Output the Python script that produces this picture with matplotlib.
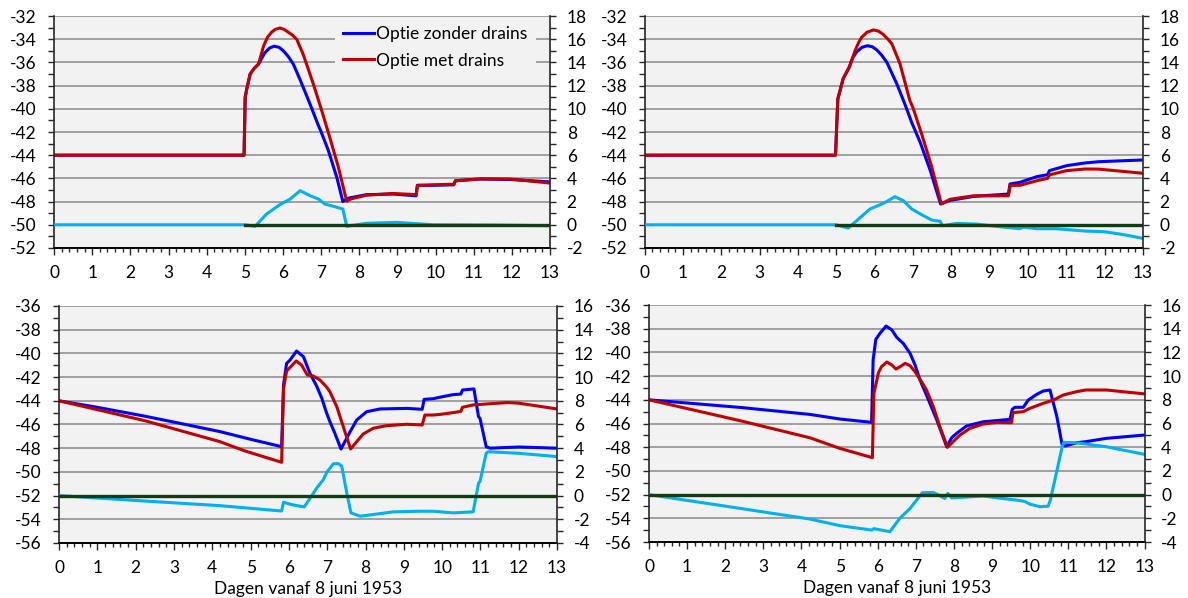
import matplotlib
matplotlib.use('Agg')
import matplotlib.pyplot as plt
from matplotlib.ticker import MultipleLocator

plt.rcParams['font.family'] = ['Lato', 'DejaVu Sans']
plt.rcParams['font.size'] = 12.5
plt.rcParams['axes.unicode_minus'] = False

# ---------------- data ----------------
label_blue = 'Optie zonder drains'
label_red = 'Optie met drains'
xlabel_text = 'Dagen vanaf 8 juni 1953'

# top-left
tl_blue_t = [0, 4.98, 5.01, 5.05, 5.14, 5.25, 5.36, 5.45, 5.53, 5.65, 5.77, 5.9, 6.01, 6.14, 6.27, 6.45, 6.71, 6.93, 6.99, 7.19, 7.41, 7.57, 7.72, 8.19, 8.89, 9.49, 9.52, 9.94, 10.48, 10.52, 11.17, 12.0, 13.0]
tl_blue_v = [-44, -44, -39.0, -38.3, -37.0, -36.5, -36.14, -35.6, -35.15, -34.75, -34.6, -34.7, -35.0, -35.5, -36.14, -37.5, -39.6, -41.45, -41.9, -43.6, -45.9, -48.0, -47.7, -47.4, -47.35, -47.5, -46.6, -46.6, -46.55, -46.2, -46.05, -46.1, -46.3]
tl_red_t = [0, 4.98, 5.01, 5.05, 5.14, 5.25, 5.36, 5.49, 5.6, 5.70, 5.8, 5.92, 6.03, 6.14, 6.25, 6.36, 6.53, 6.80, 7.02, 7.23, 7.45, 7.67, 7.8, 8.19, 8.89, 9.49, 9.53, 9.94, 10.48, 10.52, 11.17, 11.93, 13.0]
tl_red_v = [-44, -44, -39.0, -38.3, -37.0, -36.5, -36.14, -34.6, -33.8, -33.4, -33.15, -33.03, -33.15, -33.4, -33.65, -34.0, -35.3, -37.9, -40.2, -42.5, -45.0, -47.97, -47.75, -47.45, -47.3, -47.4, -46.6, -46.55, -46.5, -46.2, -46.05, -46.05, -46.4]
tl_diff_t = [0, 5.0, 5.27, 5.57, 5.92, 6.19, 6.45, 6.71, 6.93, 7.10, 7.36, 7.57, 7.67, 8.19, 8.98, 9.94, 11.5, 13]
tl_diff_v = [0, 0, -0.13, 0.93, 1.74, 2.22, 2.94, 2.51, 2.22, 1.79, 1.56, 1.36, -0.13, 0.13, 0.21, 0.0, -0.02, -0.08]
tl_zero_t = [5, 13]
tl_zero_v = [0, 0]

# top-right
tr_blue_t = [0, 4.98, 5.04, 5.18, 5.34, 5.43, 5.53, 5.67, 5.81, 5.94, 6.06, 6.19, 6.32, 6.58, 6.79, 6.97, 7.19, 7.45, 7.72, 7.97, 8.58, 9.49, 9.53, 9.79, 10.23, 10.51, 10.56, 11.01, 11.49, 11.85, 13.0]
tr_blue_v = [-44, -44, -39.16, -37.4, -36.4, -35.6, -35.1, -34.7, -34.56, -34.65, -34.93, -35.4, -36.0, -37.86, -39.6, -41.2, -42.9, -45.3, -48.2, -47.9, -47.55, -47.35, -46.48, -46.34, -45.85, -45.68, -45.33, -44.9, -44.67, -44.56, -44.41]
tr_red_t = [0, 4.98, 5.04, 5.18, 5.34, 5.49, 5.58, 5.66, 5.8, 5.97, 6.1, 6.23, 6.35, 6.45, 6.66, 6.92, 7.0, 7.23, 7.49, 7.74, 7.97, 8.58, 9.49, 9.54, 9.79, 10.23, 10.51, 10.56, 11.01, 11.49, 11.85, 13.0]
tr_red_v = [-44, -44, -39.16, -37.4, -36.4, -35.0, -34.3, -33.84, -33.4, -33.2, -33.3, -33.6, -34.0, -34.4, -36.1, -39.3, -39.9, -42.2, -45.0, -48.2, -47.8, -47.5, -47.5, -46.6, -46.6, -46.2, -46.0, -45.7, -45.33, -45.19, -45.2, -45.56]
tr_diff_t = [0, 5.0, 5.31, 5.53, 5.88, 6.23, 6.53, 6.75, 6.97, 7.27, 7.49, 7.71, 7.77, 8.14, 8.66, 9.36, 9.79, 9.88, 10.23, 10.75, 11.49, 12.0, 12.5, 13.0]
tr_diff_v = [0, 0, -0.28, 0.35, 1.36, 1.85, 2.42, 2.08, 1.36, 0.79, 0.41, 0.3, -0.08, 0.12, 0.06, -0.2, -0.34, -0.2, -0.34, -0.34, -0.54, -0.6, -0.85, -1.17]
tr_zero_t = [5, 13]
tr_zero_v = [0, 0]

# bottom-left
bl_blue_t = [0, 1, 2.24, 3, 4.2, 5.0, 5.81, 5.86, 5.94, 6.03, 6.2, 6.38, 6.55, 6.73, 6.86, 6.97, 7.07, 7.2, 7.36, 7.6, 7.77, 8.03, 8.38, 9.08, 9.48, 9.53, 9.77, 9.94, 10.29, 10.49, 10.53, 10.83, 10.95, 10.99, 11.15, 11.25, 12.0, 13.0]
bl_blue_v = [-44, -44.55, -45.3, -45.8, -46.6, -47.25, -47.87, -42.67, -40.84, -40.56, -39.8, -40.28, -41.68, -42.8, -43.79, -44.9, -45.76, -46.74, -48.07, -46.6, -45.62, -44.92, -44.69, -44.64, -44.72, -43.88, -43.82, -43.7, -43.48, -43.43, -43.09, -43.0, -45.34, -45.5, -47.87, -48.0, -47.9, -48.0]
bl_red_t = [0, 2.24, 4.2, 4.86, 5.81, 5.86, 5.94, 6.19, 6.33, 6.48, 6.64, 6.81, 6.99, 7.07, 7.25, 7.42, 7.61, 7.77, 7.94, 8.2, 8.55, 9.08, 9.48, 9.55, 9.77, 9.94, 10.29, 10.49, 10.53, 10.81, 11.15, 11.7, 12.0, 13.0]
bl_red_v = [-44, -45.68, -47.45, -48.24, -49.19, -42.95, -41.49, -40.64, -40.98, -41.82, -41.91, -42.24, -42.86, -43.23, -44.5, -46.18, -48.07, -47.45, -46.8, -46.32, -46.1, -45.98, -46.04, -45.2, -45.2, -45.15, -45.0, -44.89, -44.55, -44.35, -44.27, -44.15, -44.2, -44.69]
bl_diff_t = [0, 2.24, 4.2, 5.81, 5.86, 6.07, 6.4, 6.53, 6.73, 6.9, 6.99, 7.16, 7.29, 7.38, 7.51, 7.62, 7.86, 8.2, 8.73, 9.42, 9.77, 10.29, 10.81, 10.95, 10.99, 11.15, 11.2, 12.0, 13.0]
bl_diff_v = [0, -0.46, -0.85, -1.3, -0.56, -0.76, -0.96, -0.34, 0.65, 1.35, 1.97, 2.68, 2.7, 2.48, 0.23, -1.46, -1.74, -1.6, -1.37, -1.32, -1.32, -1.46, -1.37, 1.04, 1.2, 3.57, 3.7, 3.57, 3.29]
bl_zero_t = [0, 13]
bl_zero_v = [0, 0]

# bottom-right
br_blue_t = [0, 2.39, 4.22, 5.01, 5.84, 5.88, 5.95, 6.06, 6.22, 6.37, 6.5, 6.67, 6.85, 6.98, 7.11, 7.28, 7.55, 7.81, 7.94, 8.07, 8.33, 8.77, 9.47, 9.53, 9.6, 9.82, 9.95, 10.17, 10.34, 10.52, 10.7, 10.84, 10.91, 11.22, 11.46, 12.0, 13.0]
br_blue_v = [-44, -44.64, -45.23, -45.62, -45.9, -40.64, -38.9, -38.39, -37.77, -38.1, -38.73, -39.24, -40.08, -41.06, -42.33, -43.6, -45.7, -47.96, -47.2, -46.83, -46.21, -45.85, -45.65, -44.8, -44.63, -44.63, -44.02, -43.54, -43.26, -43.17, -45.42, -47.81, -47.9, -47.62, -47.53, -47.25, -46.97]
br_red_t = [0, 2.39, 4.22, 5.01, 5.86, 5.9, 6.02, 6.1, 6.24, 6.37, 6.48, 6.59, 6.72, 6.85, 6.98, 7.15, 7.28, 7.46, 7.63, 7.83, 7.98, 8.16, 8.42, 8.77, 9.12, 9.51, 9.55, 9.82, 9.99, 10.34, 10.61, 10.87, 11.22, 11.46, 12.0, 13.0]
br_red_v = [-44, -45.76, -47.2, -48.1, -48.88, -43.45, -41.71, -41.2, -40.81, -41.06, -41.4, -41.2, -40.92, -41.12, -41.63, -42.47, -43.17, -44.58, -46.27, -48.01, -47.53, -46.97, -46.41, -46.04, -45.9, -45.93, -45.08, -45.0, -44.72, -44.3, -44.02, -43.59, -43.31, -43.17, -43.17, -43.5]
br_diff_t = [0, 2.39, 4.22, 5.01, 5.84, 5.9, 6.32, 6.58, 6.85, 7.02, 7.17, 7.46, 7.68, 7.76, 7.84, 7.94, 8.25, 8.77, 9.47, 9.73, 9.86, 9.99, 10.26, 10.47, 10.53, 10.84, 10.88, 11.22, 11.46, 12.0, 13.0]
br_diff_v = [0, -1.16, -2.06, -2.62, -2.99, -2.87, -3.13, -2.0, -1.16, -0.46, 0.16, 0.19, -0.18, -0.33, 0.1, -0.27, -0.22, -0.12, -0.4, -0.5, -0.58, -0.8, -1.02, -0.98, -0.46, 4.04, 4.41, 4.37, 4.27, 4.04, 3.4]
br_zero_t = [0, 13]
br_zero_v = [0, 0]

top_left_lim = (-52, -32)
top_right_lim = (-2, 18)
bot_left_lim = (-56, -36)
bot_right_lim = (-4, 16)

# ---------------- styles ----------------
C_BLUE = '#0000ff'
C_RED = '#c00000'
C_LBLUE = '#00b0f0'
C_GREEN = '#123d12'
C_BG = '#f2f2f2'
C_GRID = '#999999'
C_AX = '#262626'

fig = plt.figure(figsize=(11.88, 5.98), dpi=100)


def panel(rect, ylim, ylim2, bt, bv, rt, rv, dt, dv, zt, zv, legend=False, xlabel=False):
    ax = fig.add_axes(rect)
    ax.set_facecolor(C_BG)
    ax.set_axisbelow(True)
    ax.yaxis.grid(True, which='major', color=C_GRID, lw=1.3)
    hb, = ax.plot(bt, bv, color=C_BLUE, lw=2.2, label=label_blue, solid_joinstyle='round')
    hr, = ax.plot(rt, rv, color=C_RED, lw=2.2, label=label_red, solid_joinstyle='round')
    ax.set_xlim(0, 13)
    ax.set_ylim(*ylim)
    ax.set_xticks(range(0, 14))
    ax.xaxis.set_minor_locator(MultipleLocator(0.2))
    ax.yaxis.set_major_locator(MultipleLocator(2))
    ax.yaxis.set_minor_locator(MultipleLocator(1))
    ax.tick_params(axis='x', which='major', direction='out', length=5, width=1, pad=7.5, colors=C_AX, labelcolor='black')
    ax.tick_params(axis='x', which='minor', direction='out', length=3, width=1, colors=C_AX)
    ax.tick_params(axis='y', which='major', direction='out', length=4, width=1, pad=8.5, colors=C_AX, labelcolor='black')
    ax.tick_params(axis='y', which='minor', direction='out', length=4, width=1, colors=C_AX)
    for s in ('top', 'right'):
        ax.spines[s].set_visible(False)
    ax.spines['left'].set_color(C_AX)
    ax.spines['bottom'].set_color('black')
    ax.spines['left'].set_linewidth(1.2)
    ax.spines['bottom'].set_linewidth(1.4)

    ax2 = ax.twinx()
    ax2.set_ylim(*ylim2)
    ax2.plot(dt, dv, color=C_LBLUE, lw=2.2, solid_joinstyle='round')
    ax2.plot(zt, zv, color=C_GREEN, lw=2.4)
    ax2.yaxis.set_major_locator(MultipleLocator(2))
    ax2.yaxis.set_minor_locator(MultipleLocator(1))
    ax2.tick_params(axis='y', which='major', direction='out', length=4, width=1, pad=8, colors=C_AX, labelcolor='black')
    ax2.tick_params(axis='y', which='minor', direction='out', length=4, width=1, colors=C_AX)
    for s in ('top', 'left', 'bottom'):
        ax2.spines[s].set_visible(False)
    ax2.spines['right'].set_color(C_AX)
    ax2.spines['right'].set_linewidth(1.2)

    if legend:
        ax2.legend([hb, hr], [label_blue, label_red], loc='upper left',
                   bbox_to_anchor=(0.566, 0.994), frameon=True, facecolor=C_BG,
                   edgecolor='none', framealpha=1, fancybox=False, borderaxespad=0,
                   handlelength=1.75, handletextpad=0.1, labelspacing=0.6, borderpad=0.5)
    if xlabel:
        ax.set_xlabel(xlabel_text, labelpad=3.5)
    return ax


panel([0.0455, 0.5853, 0.4175, 0.3879], top_left_lim, top_right_lim,
      tl_blue_t, tl_blue_v, tl_red_t, tl_red_v, tl_diff_t, tl_diff_v, tl_zero_t, tl_zero_v, legend=True)
panel([0.5426, 0.5853, 0.4195, 0.3879], top_left_lim, top_right_lim,
      tr_blue_t, tr_blue_v, tr_red_t, tr_red_v, tr_diff_t, tr_diff_v, tr_zero_t, tr_zero_v)
panel([0.0497, 0.0920, 0.4192, 0.3963], bot_left_lim, bot_right_lim,
      bl_blue_t, bl_blue_v, bl_red_t, bl_red_v, bl_diff_t, bl_diff_v, bl_zero_t, bl_zero_v, xlabel=True)
panel([0.5463, 0.0936, 0.4171, 0.3963], bot_left_lim, bot_right_lim,
      br_blue_t, br_blue_v, br_red_t, br_red_v, br_diff_t, br_diff_v, br_zero_t, br_zero_v, xlabel=True)

fig.savefig('out.png', dpi=100)
